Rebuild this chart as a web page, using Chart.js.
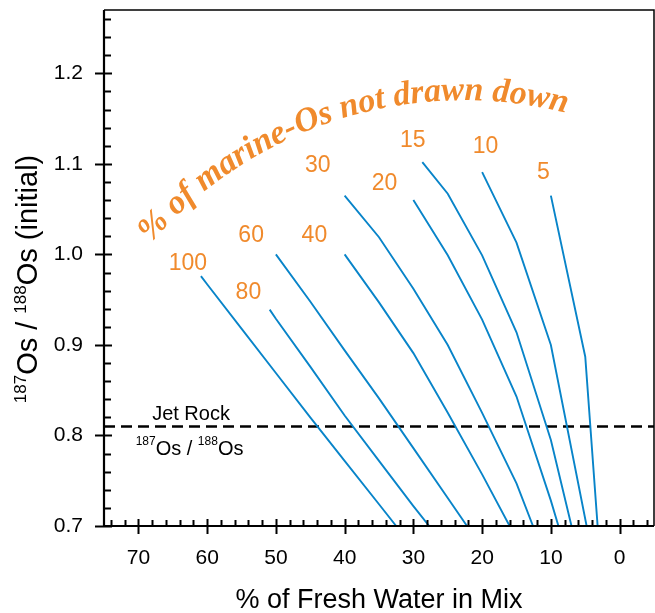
<!DOCTYPE html>
<html>
<head>
<meta charset="utf-8">
<title>Os isotope mixing</title>
<script src="https://cdn.jsdelivr.net/npm/chart.js@4.4.1/dist/chart.umd.min.js"></script>
<style>
  html, body { margin: 0; padding: 0; background: #fff; }
  #wrap { width: 655px; height: 613px; }
</style>
</head>
<body>
<div id="wrap"><canvas id="grafico"></canvas></div>
<script>
// Initial 187Os/188Os vs % fresh water, one curve per % of marine Os not drawn down
// each curve: [% fresh water, 187Os/188Os]
const curve100 = [[60.9, 0.976], [60, 0.967], [55, 0.918], [50, 0.869], [45, 0.820], [40, 0.772], [35, 0.724], [32.5, 0.700]]
const curve80 = [[50.9, 0.939], [50, 0.929], [45, 0.876], [40, 0.822], [35, 0.772], [30, 0.722], [27.7, 0.700]]
const curve60 = [[50, 1.000], [45, 0.948], [40, 0.894], [35, 0.841], [30, 0.786], [25, 0.731], [22.2, 0.700]]
const curve40 = [[40, 1.000], [35, 0.947], [30, 0.891], [25, 0.825], [20, 0.757], [16.0, 0.700]]
const curve30 = [[40, 1.065], [35, 1.019], [30, 0.962], [25, 0.900], [20, 0.825], [15, 0.747], [12.6, 0.700]]
const curve20 = [[30, 1.060], [25, 0.999], [20, 0.928], [15, 0.843], [10, 0.728], [8.9, 0.700]]
const curve15 = [[28.7, 1.102], [25, 1.067], [20, 0.999], [15, 0.914], [10, 0.795], [7.0, 0.700]]
const curve10 = [[20, 1.091], [15, 1.013], [10, 0.900], [4.8, 0.700]]
const curve5 = [[10, 1.065], [5, 0.887], [3.2, 0.700]]

const curves = [curve100, curve80, curve60, curve40, curve30, curve20, curve15, curve10, curve5]
const curveNames = ['100', '80', '60', '40', '30', '20', '15', '10', '5']
// where each percentage label sits, [x, y]
const curveLabelPos = [[62.8, 0.992], [54.0, 0.960], [53.6, 1.023], [44.4, 1.023], [43.9, 1.100], [34.2, 1.080], [30.1, 1.128], [19.5, 1.121], [11.1, 1.092]]

// Jet Rock value
const jetRockOs = 0.81

const xTicks = [70, 60, 50, 40, 30, 20, 10, 0]
const yTicks = [0.7, 0.8, 0.9, 1.0, 1.1, 1.2]

const SANS = "'Liberation Sans', Arial, sans-serif"
const SERIF = "'Liberation Serif', 'Times New Roman', serif"
const BLUE = '#0884c9'
const ORANGE = '#f08a2c'

// text with superscript pieces, e.g. 187Os
function drawSupText(ctx, parts, x, y, size, supSize, raise, align) {
  const widths = parts.map(p => {
    ctx.font = `${p.sup ? supSize : size}px ${SANS}`
    return ctx.measureText(p.t).width
  })
  const total = widths.reduce((a, b) => a + b, 0)
  let cx = align === 'center' ? x - total / 2 : x
  ctx.textAlign = 'left'
  ctx.textBaseline = 'alphabetic'
  parts.forEach((p, i) => {
    ctx.font = `${p.sup ? supSize : size}px ${SANS}`
    ctx.fillText(p.t, cx, p.sup ? y - raise : y)
    cx += widths[i]
  })
}

// text laid along a circular arc, centred at angle mid (radians)
function drawArcText(ctx, text, cx, cy, r, mid) {
  const widths = [...text].map(c => ctx.measureText(c).width)
  const total = widths.reduce((a, b) => a + b, 0)
  let ang = mid - total / 2 / r
  ctx.textAlign = 'center'
  ctx.textBaseline = 'alphabetic'
  ;[...text].forEach((c, i) => {
    const a = ang + widths[i] / 2 / r
    ctx.save()
    ctx.translate(cx + r * Math.cos(a), cy + r * Math.sin(a))
    ctx.rotate(a + Math.PI / 2)
    ctx.fillText(c, 0, 0)
    ctx.restore()
    ang += widths[i] / r
  })
}

const marcoEjes = {
  id: 'marcoEjes',
  afterDraw(chart) {
    const { ctx, chartArea: a, scales } = chart
    const x = scales.x
    const y = scales.y
    ctx.save()
    ctx.strokeStyle = '#000'
    ctx.lineWidth = 1.5
    ctx.beginPath()
    ctx.moveTo(a.left, a.top)
    ctx.lineTo(a.right, a.top)
    ctx.lineTo(a.right, a.bottom)
    ctx.stroke()
    ctx.lineWidth = 2.2
    ctx.beginPath()
    ctx.moveTo(a.left, a.top)
    ctx.lineTo(a.left, a.bottom)
    ctx.lineTo(a.right, a.bottom)
    ctx.stroke()

    // x ticks: major every 10 (crossing), minor every 2 (inside)
    ctx.lineWidth = 2
    for (let v = -4; v <= 74; v += 2) {
      const px = Math.round(x.getPixelForValue(v)) + 0.5
      const major = v % 10 === 0
      ctx.beginPath()
      ctx.moveTo(px, a.bottom - (major ? 7 : 6))
      ctx.lineTo(px, a.bottom + (major ? 8 : 0))
      ctx.stroke()
    }
    // y ticks: major every 0.1, minor every 0.02
    for (let i = 0; i <= 28; i++) {
      const py = Math.round(y.getPixelForValue(0.7 + i * 0.02)) + 0.5
      const major = i % 5 === 0
      ctx.beginPath()
      ctx.moveTo(a.left - (major ? 9 : 0), py)
      ctx.lineTo(a.left + (major ? 8 : 7), py)
      ctx.stroke()
    }

    // axis titles
    ctx.fillStyle = '#000'
    ctx.font = `27px ${SANS}`
    ctx.textAlign = 'center'
    ctx.textBaseline = 'alphabetic'
    ctx.fillText('% of Fresh Water in Mix', (a.left + a.right) / 2, 608)

    ctx.save()
    ctx.translate(37, 279)
    ctx.rotate(-Math.PI / 2)
    drawSupText(ctx, [{ t: '187', sup: true }, { t: 'Os / ' }, { t: '188', sup: true }, { t: 'Os (initial)' }], 0, 0, 29, 17, 11, 'center')
    ctx.restore()

    // Jet Rock reference label
    drawSupText(ctx, [{ t: 'Jet Rock' }], x.getPixelForValue(68), y.getPixelForValue(0.8168), 20, 12, 0, 'left')
    drawSupText(ctx, [{ t: '187', sup: true }, { t: 'Os / ' }, { t: '188', sup: true }, { t: 'Os' }],
      x.getPixelForValue(70.4), y.getPixelForValue(0.778), 20, 12, 10, 'left')

    // curve labels
    ctx.fillStyle = ORANGE
    ctx.font = `23px ${SANS}`
    ctx.textAlign = 'center'
    ctx.textBaseline = 'alphabetic'
    curveNames.forEach((n, i) => {
      const [lx, ly] = curveLabelPos[i]
      ctx.fillText(n, x.getPixelForValue(lx), y.getPixelForValue(ly) + 8)
    })

    // curved caption
    ctx.font = `bold italic 34px ${SERIF}`
    drawArcText(ctx, '% of marine-Os not drawn down',
      x.getPixelForValue(22.6), y.getPixelForValue(0.712), 415, -107.4 * Math.PI / 180)
    ctx.restore()
  },
}

const datasets = curves.map((c, i) => ({
  label: curveNames[i],
  data: c.map(([fx, os]) => ({ x: fx, y: os })),
  borderColor: BLUE,
  borderWidth: 1.9,
  pointRadius: 0,
  showLine: true,
  tension: 0,
}))
datasets.push({
  label: 'Jet Rock',
  data: [{ x: 75, y: jetRockOs }, { x: -5, y: jetRockOs }],
  borderColor: '#000',
  borderWidth: 2.5,
  borderDash: [11, 6],
  pointRadius: 0,
  showLine: true,
})

new Chart(document.getElementById('grafico'), {
  type: 'scatter',
  data: { datasets },
  options: {
    responsive: true,
    maintainAspectRatio: false,
    animation: false,
    devicePixelRatio: 1,
    layout: { autoPadding: false, padding: { top: 10, right: 1, left: 0, bottom: 0 } },
    plugins: { legend: { display: false }, tooltip: { enabled: false } },
    scales: {
      x: {
        type: 'linear',
        reverse: true,
        min: -5,
        max: 75,
        afterBuildTicks: s => { s.ticks = xTicks.map(v => ({ value: v })) },
        afterFit: s => { s.height = 87; s.paddingLeft = 0; s.paddingRight = 0 },
        grid: { display: false, drawTicks: false },
        border: { display: false },
        ticks: { color: '#000', font: { family: SANS, size: 21 }, padding: 20, maxRotation: 0, autoSkip: false },
      },
      y: {
        type: 'linear',
        min: 0.7,
        max: 1.27,
        afterBuildTicks: s => { s.ticks = yTicks.map(v => ({ value: v })) },
        afterFit: s => { s.width = 104; s.paddingTop = 0; s.paddingBottom = 0 },
        grid: { display: false, drawTicks: false },
        border: { display: false },
        ticks: { color: '#000', font: { family: SANS, size: 21 }, padding: 21, callback: v => v.toFixed(1) },
      },
    },
  },
  plugins: [marcoEjes],
})
</script>
</body>
</html>
